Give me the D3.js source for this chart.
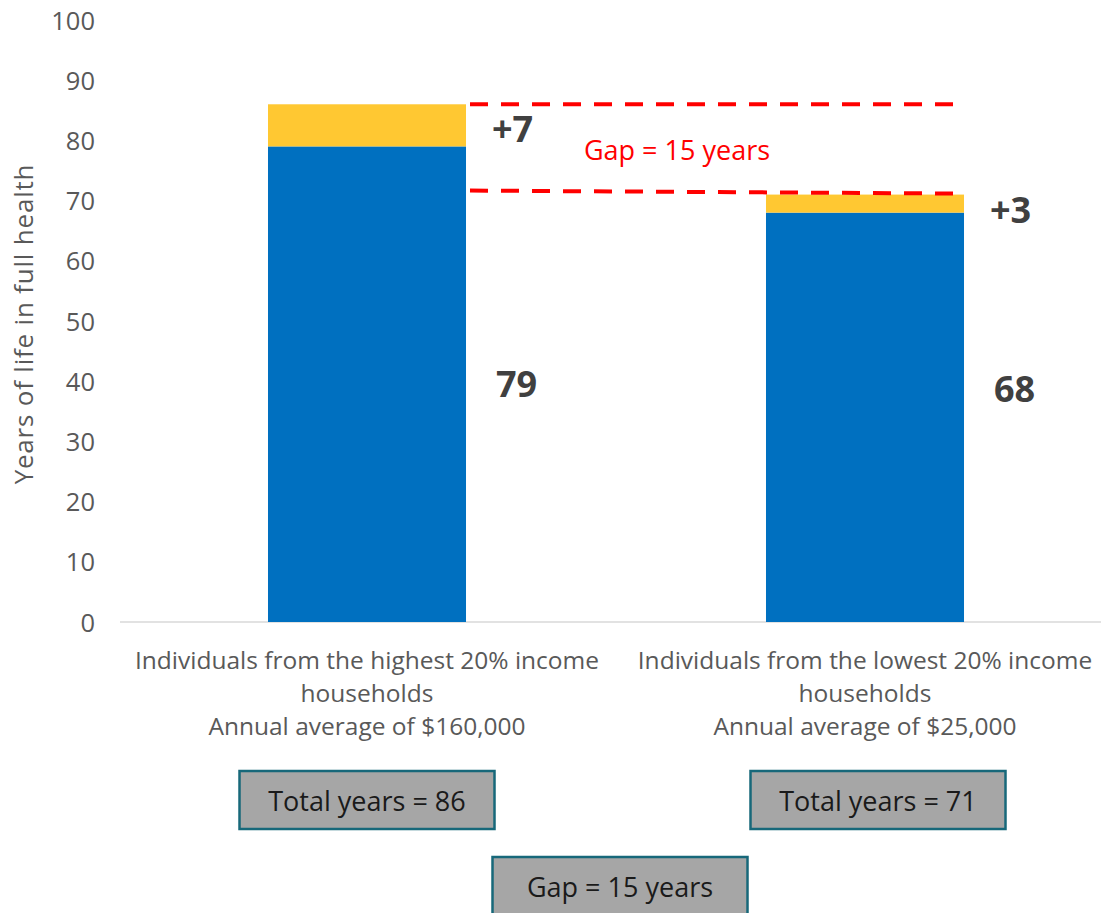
<!DOCTYPE html>
<html>
<head>
<meta charset="utf-8">
<script src="https://cdn.jsdelivr.net/npm/d3@7"></script>
<style>
  html, body { margin: 0; padding: 0; background: #fff; }
  svg { display: block; font-family: "Open Sans", Lato, sans-serif; }
</style>
</head>
<body>
<svg id="chart" width="1101" height="913"></svg>
<script>
// ---- data ----
const categories = ["high", "low"];
const categoryLabels = [
  ["Individuals from the highest 20% income", "households", "Annual average of $160,000"],
  ["Individuals from the lowest 20% income", "households", "Annual average of $25,000"]
];
const baseYears = [79, 68];
const extraYears = [7, 3];
const totalLabels = ["Total years = 86", "Total years = 71"];
const gapLabel = "Gap = 15 years";
const yTicks = [0, 10, 20, 30, 40, 50, 60, 70, 80, 90, 100];
const yTitle = "Years of life in full health";
const gapLines = [86, 71.5];

// ---- layout ----
const svg = d3.select("#chart");
const y = d3.scaleLinear().domain([0, 100]).range([622, 20]);
const x = d3.scaleBand().domain(categories).range([118, 1114]).paddingInner(0).paddingOuter(0);
const barW = x.bandwidth() / 2.515;
const cx = c => x(c) + x.bandwidth() / 2;

const blue = "#0070c0", yellow = "#ffc832", grey = "#595959";
const FONT = "'Open Sans', Lato, sans-serif";

// y axis tick labels
const yAxis = d3.axisLeft(y).tickValues(yTicks).tickSize(0).tickPadding(0);
const gy = svg.append("g").attr("transform", "translate(95,0)").call(yAxis);
gy.select(".domain").remove();
gy.selectAll("text").attr("font-size", 25.5).attr("fill", grey).attr("font-family", FONT).attr("dy", "0.36em");

// y title
svg.append("text")
  .attr("transform", `translate(33,${y(49.5)}) rotate(-90)`)
  .attr("text-anchor", "middle")
  .attr("font-size", 26).attr("letter-spacing", 0.8).attr("fill", grey)
  .text(yTitle);

// baseline
svg.append("line").attr("x1", 120).attr("x2", 1101).attr("y1", y(0)).attr("y2", y(0))
  .attr("stroke", "#d9d9d9").attr("stroke-width", 1.5);

// bars
const bigOffsets = [397, 402];
const plusBase = [142, 223];
categories.forEach((c, i) => {
  svg.append("rect").attr("x", cx(c) - barW / 2).attr("width", barW)
    .attr("y", y(baseYears[i])).attr("height", y(0) - y(baseYears[i])).attr("fill", blue);
  svg.append("rect").attr("x", cx(c) - barW / 2).attr("width", barW)
    .attr("y", y(baseYears[i] + extraYears[i])).attr("height", y(baseYears[i]) - y(baseYears[i] + extraYears[i]))
    .attr("fill", yellow);
  // labels
  svg.append("text").attr("x", cx(c) + barW / 2 + 26).attr("y", plusBase[i])
    .attr("font-size", 36).attr("font-weight", "bold").attr("fill", "#404040")
    .text("+" + extraYears[i]);
  svg.append("text").attr("x", cx(c) + barW / 2 + 30).attr("y", bigOffsets[i])
    .attr("font-size", 36).attr("font-weight", "bold").attr("fill", "#404040")
    .text(baseYears[i]);
  // category labels
  const t = svg.append("text").attr("text-anchor", "middle").attr("font-size", 24.5).attr("fill", grey);
  categoryLabels[i].forEach((line, j) => {
    t.append("tspan").attr("x", cx(c)).attr("y", 669 + j * 33).text(line);
  });
});

// gap dashed lines
const gapX1 = cx(categories[0]) + barW / 2 + 4;
const gapX2 = cx(categories[1]) + barW / 2 - 2;
svg.append("line").attr("x1", gapX1).attr("x2", gapX2)
  .attr("y1", y(gapLines[0])).attr("y2", y(gapLines[0]))
  .attr("stroke", "#ff0000").attr("stroke-width", 4).attr("stroke-dasharray", "18,13");
svg.append("line").attr("x1", gapX1).attr("x2", gapX2)
  .attr("y1", y(gapLines[1]) - 1).attr("y2", y(gapLines[1]) + 2)
  .attr("stroke", "#ff0000").attr("stroke-width", 4).attr("stroke-dasharray", "18,13");
svg.append("text").attr("x", 677).attr("y", 160)
  .attr("text-anchor", "middle").attr("font-size", 27).attr("fill", "#ff0000").text(gapLabel);

// boxes
function box(cxPos, top, w, h, label, ty) {
  svg.append("rect").attr("x", cxPos - w / 2).attr("y", top).attr("width", w).attr("height", h)
    .attr("fill", "#a6a6a6").attr("stroke", "#17687a").attr("stroke-width", 2.5);
  svg.append("text").attr("x", cxPos).attr("y", ty).attr("text-anchor", "middle")
    .attr("font-size", 27).attr("fill", "#1a1a1a").text(label);
}
box(367, 771, 255, 58, totalLabels[0], 811);
box(878, 771, 255, 58, totalLabels[1], 811);
box(620, 857, 255, 70, gapLabel, 897);
</script>
</body>
</html>
